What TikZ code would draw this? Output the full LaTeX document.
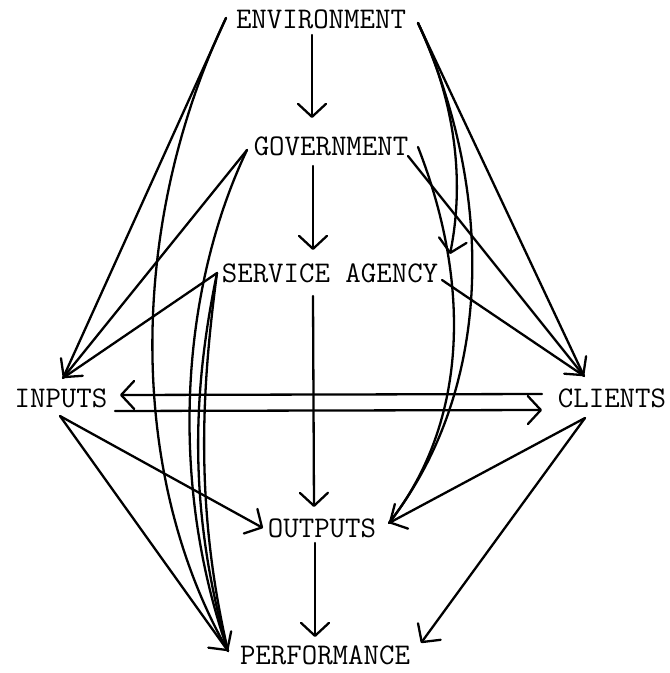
\documentclass[tikz,border=0pt]{standalone}
\usepackage{fontspec}
\usetikzlibrary{arrows.meta}
\begin{document}
\begin{tikzpicture}[x=1pt,y=-1pt,
  lbl/.style={font=\fontsize{30}{30}\selectfont\ttfamily\addfontfeature{FakeBold=2.2}, inner sep=0pt},
  conn/.style={line width=2.3pt, line cap=round, line join=round},
  tip/.style={-{Straight Barb[length=13pt,width=28pt,round]}}]
\useasboundingbox (0,0) rectangle (670,673);
% nodes
\node[lbl] (env)  at (321,19)  {ENVIRONMENT};
\node[lbl] (gov)  at (331,146) {GOVERNMENT};
\node[lbl] (sa)   at (330,273) {SERVICE AGENCY};
\node[lbl] (inp)  at (61,398)  {INPUTS};
\node[lbl] (cli)  at (612,398) {CLIENTS};
\node[lbl] (out)  at (322,528) {OUTPUTS};
\node[lbl] (perf) at (325,655) {PERFORMANCE};
% connector end points
\coordinate (envL) at (226,18);
\coordinate (envR) at (418,23);
\coordinate (envB) at (312,35);
\coordinate (govT) at (312,118);
\coordinate (govB) at (313,166);
\coordinate (govL) at (247,150);
\coordinate (govR1) at (408,156);
\coordinate (govR2) at (418,147);
\coordinate (saT) at (313,250);
\coordinate (saB) at (313,296);
\coordinate (saL) at (217,273);
\coordinate (saR) at (442,280);
\coordinate (saA) at (450,254);
\coordinate (inpT) at (63,378);
\coordinate (inpA) at (120,395);
\coordinate (inpC) at (115,411);
\coordinate (inpB) at (60,416);
\coordinate (cliT) at (584,376);
\coordinate (cliA) at (542,394);
\coordinate (cliC) at (542,410);
\coordinate (cliB) at (585,418);
\coordinate (outT) at (314,507);
\coordinate (outB) at (315,543);
\coordinate (outL) at (263,528);
\coordinate (outR) at (389,523);
\coordinate (perfT) at (315,637);
\coordinate (perfL) at (228,651);
\coordinate (perfR) at (421,643);
% vertical chain
\draw[conn,tip] (envB) -- (govT);
\draw[conn,tip] (govB) -- (saT);
\draw[conn,tip] (saB) -- (outT);
\draw[conn,tip] (outB) -- (perfT);
% to INPUTS
\draw[conn] (envL) -- (inpT);
\draw[conn,tip] (govL) -- (inpT);
\draw[conn] (saL) -- (inpT);
% to PERFORMANCE (left)
\draw[conn] (envL) .. controls (130,220) and (125,470) .. (perfL);
\draw[conn] (govL) .. controls (185,280) and (165,470) .. (perfL);
\draw[conn] (saL) .. controls (195,380) and (185,500) .. (perfL);
\draw[conn] (saL) .. controls (203,380) and (193,500) .. (perfL);
\draw[conn,tip] (inpB) -- (perfL);
\draw[conn,tip] (inpB) -- (outL);
% to CLIENTS
\draw[conn] (envR) -- (cliT);
\draw[conn,tip] (govR1) -- (cliT);
\draw[conn] (saR) -- (cliT);
% right curves
\draw[conn,tip] (envR) .. controls (455,100) and (465,180) .. (saA);
\draw[conn] (govR2) .. controls (470,280) and (470,420) .. (outR);
\draw[conn] (envR) .. controls (490,180) and (500,380) .. (outR);
\draw[conn,tip] (cliB) -- (outR);
\draw[conn,tip] (cliB) -- (perfR);
% INPUTS <-> CLIENTS
\draw[conn,tip] (cliA) -- (inpA);
\draw[conn,tip] (inpC) -- (cliC);
\end{tikzpicture}
\end{document}
